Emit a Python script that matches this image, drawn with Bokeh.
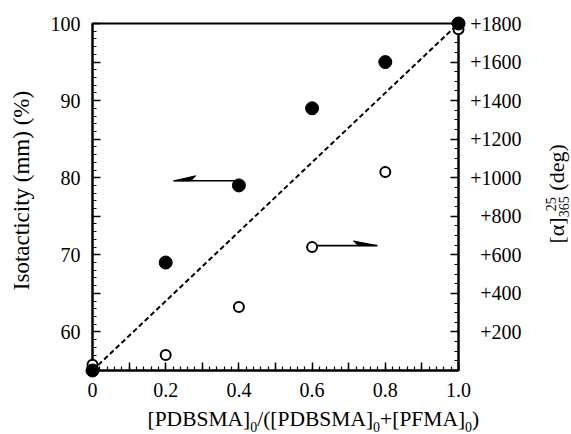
import math
from bokeh.plotting import figure
from bokeh.models import Range1d, LinearAxis, FixedTicker
from bokeh.core.properties import value
from bokeh.embed import file_html
from bokeh.resources import INLINE

# ---------------- data ----------------
ratio = [0.0, 0.2, 0.4, 0.6, 0.8, 1.0]
isotacticity = [55, 69, 79, 89, 95, 100]          # filled circles, left axis (%)
rotation = [30, 80, 330, 640, 1030, 1770]         # open circles, right axis (deg)
ref_ratio = [0.0, 1.0]                            # dashed reference line
ref_rotation = [0, 1800]

x_major = [0.0, 0.1, 0.2, 0.3, 0.4, 0.5, 0.6, 0.7, 0.8, 0.9, 1.0]
x_labels = ["0", "", "0.2", "", "0.4", "", "0.6", "", "0.8", "", "1.0"]
y_major = [55, 60, 65, 70, 75, 80, 85, 90, 95, 100]
y_labels = ["", "60", "", "70", "", "80", "", "90", "", "100"]
r_major = [0, 200, 400, 600, 800, 1000, 1200, 1400, 1600, 1800]
r_labels = ["", "+200", "+400", "+600", "+800", "+1000", "+1200", "+1400", "+1600", "+1800"]

FONT = "Liberation Serif"

# frame placement (canvas px) used only to position free text
FX0, FX1, FY0, FY1 = 92, 458, 23, 370
YMIN, YMAX = 55, 100
def dx(px):
    return (px - FX0) / (FX1 - FX0)
def dy(py):
    return YMAX - (py - FY0) * (YMAX - YMIN) / (FY1 - FY0)

W, H = 571, 434
p = figure(width=W, height=H, x_range=Range1d(0, 1.0), y_range=Range1d(YMIN, YMAX),
           output_backend="svg", toolbar_location=None,
           x_axis_type=None, y_axis_type=None,
           min_border_left=FX0, min_border_right=W - FX1, min_border_top=FY0, min_border_bottom=H - FY1)
p.extra_y_ranges = {"right": Range1d(0, 1800)}
p.xgrid.visible = False
p.ygrid.visible = False
p.outline_line_color = "black"
p.outline_line_width = 2
p.background_fill_color = "white"
p.border_fill_color = "white"

def style_axis(ax):
    ax.axis_line_width = 2
    ax.axis_line_color = "black"
    ax.major_tick_in = 8
    ax.major_tick_out = 0
    ax.minor_tick_in = 4
    ax.minor_tick_out = 0
    ax.major_tick_line_width = 1.5
    ax.minor_tick_line_width = 1.2
    ax.major_label_text_font = FONT
    ax.major_label_text_font_size = "20px"
    ax.major_label_text_color = "black"

xa = LinearAxis(ticker=FixedTicker(ticks=x_major, minor_ticks=[round(i * 0.02, 2) for i in range(51)]),
                major_label_overrides=dict(zip(x_major, x_labels)))
style_axis(xa)
xa.major_label_standoff = 12
p.add_layout(xa, "below")

ya = LinearAxis(ticker=FixedTicker(ticks=y_major, minor_ticks=list(range(55, 101))),
                major_label_overrides=dict(zip(y_major, y_labels)))
style_axis(ya)
ya.major_label_standoff = 12
p.add_layout(ya, "left")

ra = LinearAxis(y_range_name="right",
                ticker=FixedTicker(ticks=r_major, minor_ticks=list(range(0, 1801, 50))),
                major_label_overrides={v: "" for v in r_major})
style_axis(ra)
p.add_layout(ra, "right")

# right tick labels, right aligned (text glyphs drawn above the frame clip)
p.text(x=[1.0] * len(r_major), y=r_major, text=r_labels, y_range_name="right",
       x_offset=63, text_align="right", text_baseline="middle",
       text_font=value(FONT), text_font_size=value("20px"), text_color="black",
       level="overlay")

# dashed reference line
p.line(ref_ratio, ref_rotation, y_range_name="right", line_color="black",
       line_width=2, line_dash="5 3")

# arrows (half heads)
fx, fy = ratio[2], isotacticity[2]
sh = 0.6
p.line([fx, fx - 0.178], [fy + sh, fy + sh], line_color="black", line_width=1.6)
p.patch([fx - 0.178, fx - 0.118, fx - 0.131], [fy + sh, fy + sh + 0.65, fy + sh],
        fill_color="black", line_color="black", line_width=1)

ox, oy = ratio[3], rotation[3]
osh = 8
p.line([ox, ox + 0.178], [oy + osh, oy + osh], y_range_name="right", line_color="black", line_width=1.6)
p.patch([ox + 0.178, ox + 0.113, ox + 0.126], [oy + osh, oy + osh + 24, oy + osh],
        y_range_name="right", fill_color="black", line_color="black", line_width=1)

# markers (open first, filled on top)
r2 = p.scatter(ratio, rotation, y_range_name="right", size=10, marker="circle",
               fill_color="white", line_color="black", line_width=2)
r1 = p.scatter(ratio, isotacticity, size=13, marker="circle", fill_color="black", line_color="black")
r2.level = "overlay"
r1.level = "overlay"

# ---------------- titles (text glyphs, overlay level so they are not clipped) ----------------
def add_text(x, y, txt, size, angle=0.0, align="left", baseline="alphabetic"):
    p.text(x=[x], y=[y], text=[txt], angle=angle, text_align=align, text_baseline=baseline,
           text_font=value(FONT), text_font_size=value(f"{size}px"), text_color="black",
           level="overlay")

add_text(dx(21), dy(190), "Isotacticity (mm) (%)", 23, angle=math.pi / 2,
         align="center", baseline="middle")

ADV = {'[': 0.333, ']': 0.333, '(': 0.333, ')': 0.333, '/': 0.278, '+': 0.564, 'P': 0.556,
       'D': 0.722, 'B': 0.667, 'S': 0.556, 'M': 0.889, 'A': 0.722, 'F': 0.556, 'd': 0.5,
       'e': 0.444, 'g': 0.5, 'α': 0.53}
def tw(s, size):
    return sum(ADV.get(c, 0.5) for c in s) * size
SHIFT = 0.28  # observed anchor offset of the "alphabetic" baseline, in em

# x title with subscripts
MAIN, SUB = 21.5, 14
base = 425
cur = 147
for txt, is_sub in [("[PDBSMA]", False), ("0", True), ("/([PDBSMA]", False), ("0", True),
                    ("+[PFMA]", False), ("0", True), (")", False)]:
    size = SUB if is_sub else MAIN
    b = base + (5 if is_sub else 0) - SHIFT * size
    add_text(dx(cur), dy(b), txt, size)
    cur += tw(txt, size)

# right title, rotated, with stacked sub/superscript
RB = 562      # baseline x (canvas px)
start = 243   # bottom end (canvas px)
RM, RS = 22, 14
w1 = tw("[α]", RM)
add_text(dx(RB - SHIFT * RM), dy(start), "[α]", RM, angle=math.pi / 2)
add_text(dx(RB + 5 - SHIFT * RS), dy(start - w1), "365", RS, angle=math.pi / 2)
add_text(dx(RB - 8 - SHIFT * RS), dy(start - w1 - 6), "25", RS, angle=math.pi / 2)
add_text(dx(RB - SHIFT * RM), dy(start - w1 - tw("365", RS) - 0.25 * RM), "(deg)", RM,
         angle=math.pi / 2)

open("out.html", "w").write(file_html(p, INLINE))
